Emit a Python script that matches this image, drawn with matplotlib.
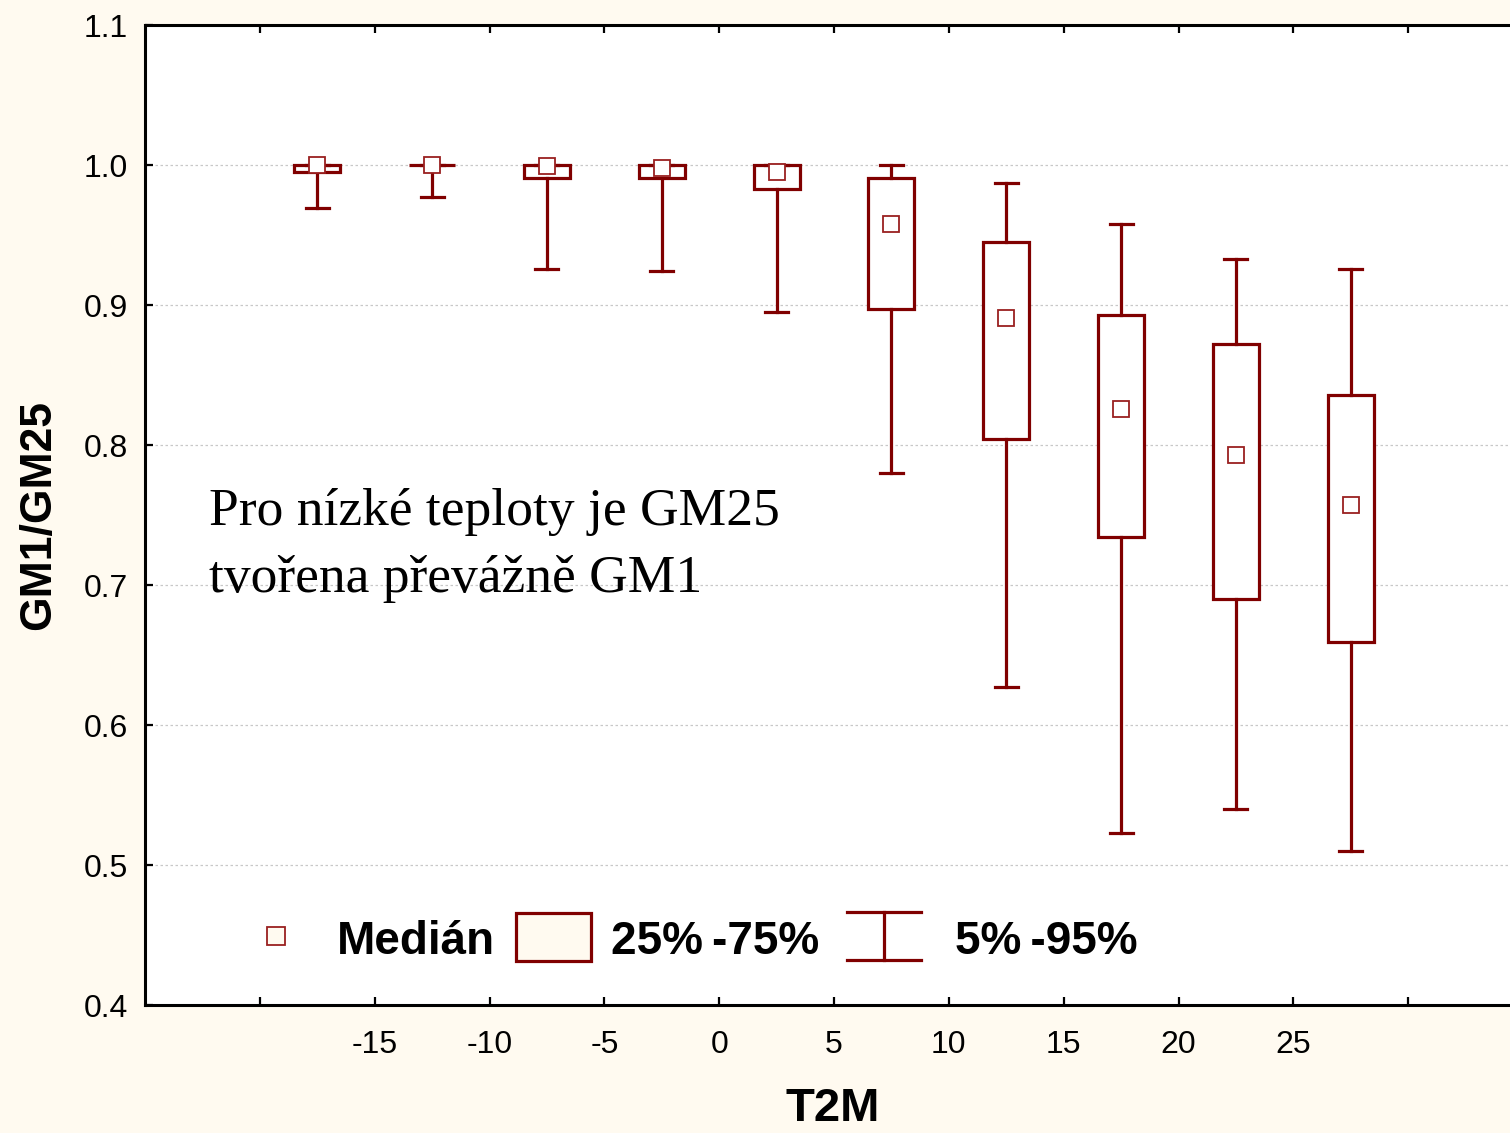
import matplotlib
matplotlib.use("agg")
from matplotlib import pyplot
from matplotlib.patches import Rectangle
from matplotlib.lines import Line2D

# percentiles of GM1/GM25 per T2M class (class centres)
t2m_centers = [-17.5, -12.5, -7.5, -2.5, 2.5, 7.5, 12.5, 17.5, 22.5, 27.5]
p05 = [0.969, 0.977, 0.926, 0.924, 0.895, 0.780, 0.627, 0.523, 0.540, 0.510]
p25 = [0.995, 1.000, 0.991, 0.991, 0.983, 0.897, 0.804, 0.734, 0.690, 0.659]
median = [1.000, 1.000, 0.999, 0.998, 0.995, 0.958, 0.891, 0.826, 0.793, 0.757]
p75 = [1.000, 1.000, 1.000, 1.000, 1.000, 0.991, 0.945, 0.893, 0.872, 0.836]
p95 = [1.000, 1.000, 1.000, 1.000, 1.000, 1.000, 0.987, 0.958, 0.933, 0.926]

x_ticks = [-20, -15, -10, -5, 0, 5, 10, 15, 20, 25, 30]
x_ticklabels = ["", "-15", "-10", "-5", "0", "5", "10", "15", "20", "25", ""]
y_ticks = [0.4, 0.5, 0.6, 0.7, 0.8, 0.9, 1.0, 1.1]
y_ticklabels = ["0.4", "0.5", "0.6", "0.7", "0.8", "0.9", "1.0", "1.1"]

note_lines = ["Pro nízké teploty je GM25", "tvořena převážně GM1"]
legend_labels = ["Medián", "25%\u2009-75%", "5%\u2009-95%"]

RED = "#800000"
CREAM = "#fffaf0"
SANS = ["Liberation Sans", "DejaVu Sans"]
SERIF = "Liberation Serif"

fig = pyplot.figure(figsize=(15.10, 11.33), dpi=100, facecolor=CREAM)
W, H = 1510.0, 1133.0
ax = fig.add_axes([145/W, 1 - 1005/H, 1378/W, 980/H])
ax.set_facecolor("white")

stats = []
for i in range(len(t2m_centers)):
    stats.append(dict(med=median[i], q1=p25[i], q3=p75[i],
                      whislo=p05[i], whishi=p95[i], fliers=[]))

ax.bxp(stats, positions=t2m_centers, widths=2.0, capwidths=1.0,
       patch_artist=True, showfliers=False, manage_ticks=False,
       boxprops=dict(facecolor="white", edgecolor=RED, linewidth=2.3),
       whiskerprops=dict(color=RED, linewidth=2.3),
       capprops=dict(color=RED, linewidth=2.3),
       medianprops=dict(linewidth=0))
ax.plot(t2m_centers, median, ls="", marker="s", ms=12, mfc="white",
        mec="#9a2020", mew=1.3, zorder=4)

ax.set_xlim(-25, 35)
ax.set_ylim(0.4, 1.1)
ax.set_xticks(x_ticks)
ax.set_xticklabels(x_ticklabels, fontsize=23, family=SANS)
ax.set_yticks(y_ticks)
ax.set_yticklabels(y_ticklabels, fontsize=23, family=SANS)
ax.tick_params(axis="both", direction="in", length=6, width=1.6,
               top=True, right=True)
ax.tick_params(axis="x", pad=18)
ax.tick_params(axis="y", pad=12)
for sp in ax.spines.values():
    sp.set_linewidth(2.2)

ax.set_axisbelow(True)
ax.yaxis.grid(True, color="#c8c8c8", linestyle=(0, (2, 2)), linewidth=0.9)

ax.set_xlabel("T2M", fontsize=34, fontweight="bold", family=SANS)
ax.xaxis.set_label_coords(0.4993, -0.084)
ax.set_ylabel("GM1/GM25", fontsize=32, fontweight="bold", family=SANS)
ax.yaxis.set_label_coords(-0.0620, 0.5)

ax.text(0.0464, 0.4898, note_lines[0], transform=ax.transAxes,
        fontsize=38.5, family=SERIF, va="baseline", ha="left")
ax.text(0.0464, 0.4214, note_lines[1], transform=ax.transAxes,
        fontsize=38.5, family=SERIF, va="baseline", ha="left")

# legend drawn by hand in axes coordinates
ax.add_line(Line2D([0.0951], [0.0704], transform=ax.transAxes, ls="",
                   marker="s", ms=13, mfc=CREAM, mec="#9a2020", mew=1.3))
ax.text(0.1393, 0.052, legend_labels[0], transform=ax.transAxes, fontsize=33,
        fontweight="bold", family=SANS, va="baseline")
ax.add_patch(Rectangle((0.2692, 0.0449), 0.0544, 0.049, transform=ax.transAxes,
                       facecolor=CREAM, edgecolor=RED, linewidth=2.3))
ax.text(0.3382, 0.052, legend_labels[1], transform=ax.transAxes, fontsize=33,
        fontweight="bold", family=SANS, va="baseline")
ax.add_line(Line2D([0.5363, 0.5363], [0.0459, 0.0949], transform=ax.transAxes,
                   color=RED, linewidth=2.3))
for yy in (0.0459, 0.0949):
    ax.add_line(Line2D([0.5094, 0.5631], [yy, yy], transform=ax.transAxes,
                       color=RED, linewidth=2.3))
ax.text(0.5878, 0.052, legend_labels[2], transform=ax.transAxes, fontsize=33,
        fontweight="bold", family=SANS, va="baseline")

fig.savefig("out.png", dpi=100, facecolor=CREAM)
